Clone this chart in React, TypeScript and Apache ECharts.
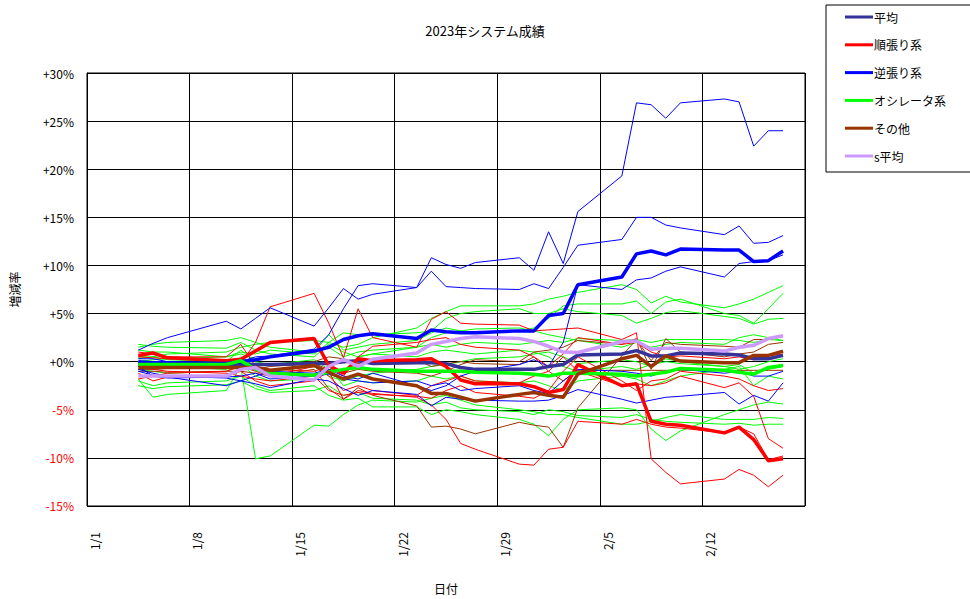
import React, { useEffect, useRef } from "react";
import * as echarts from "echarts";

const categories = [
  "1/1","1/2","1/3","1/4","1/5","1/6","1/7","1/8","1/9","1/10","1/11","1/12","1/13","1/14","1/15","1/16",
  "1/17","1/18","1/19","1/20","1/21","1/22","1/23","1/24","1/25","1/26","1/27","1/28","1/29","1/30","1/31",
  "2/1","2/2","2/3","2/4","2/5","2/6","2/7","2/8","2/9","2/10","2/11","2/12","2/13","2/14","2/15","2/16","2/17","2/18",
];

const tradingDays = [
  "1/4","1/5","1/6","1/10","1/11","1/12","1/13","1/16","1/17","1/18","1/19","1/20","1/23","1/24","1/25","1/26",
  "1/27","1/30","1/31","2/1","2/2","2/3","2/6","2/7","2/8","2/9","2/10","2/13","2/14","2/15","2/16","2/17",
];

// thick average lines
const avgAll = [-0.2,-0.2,-0.3,-0.3,-0.3,-0.3,-0.3,-0.2,-0.2,0.0,0.1,-0.2,-0.1,-0.1,-0.2,-0.6,-0.8,-0.8,-0.8,-0.5,-0.3,0.7,0.8,1.15,0.6,0.6,0.9,0.8,0.7,0.3,0.3,0.65];
const trendAvg = [0.65,0.9,0.4,0.1,0.25,1.1,2.0,2.4,-0.4,-1.2,0.3,0.1,0.2,0.3,-0.5,-1.9,-2.3,-2.3,-2.6,-3.2,-2.9,-0.3,-2.5,-2.3,-6.2,-6.5,-6.6,-7.4,-6.8,-8.1,-10.3,-10.1];
const revAvg = [0.0,-0.1,-0.1,-0.2,0.0,0.2,0.5,1.1,1.5,2.3,2.7,2.9,2.4,3.3,3.1,3.0,3.0,3.2,3.2,4.8,5.0,8.0,8.8,11.2,11.5,11.1,11.7,11.6,11.6,10.4,10.5,11.5];
const oscAvg = [-0.3,-0.3,-0.3,-0.3,0.1,-0.8,-1.2,-1.4,-1.1,-0.8,-0.6,-0.8,-1.0,-1.0,-1.0,-1.0,-1.1,-1.2,-1.3,-1.5,-1.2,-1.2,-1.3,-1.5,-1.3,-1.1,-0.7,-0.9,-1.1,-1.3,-0.6,-0.4];
const otherAvg = [-0.6,-0.6,-0.6,-0.6,-0.6,-0.6,-0.9,-0.4,-1.1,-1.8,-1.3,-1.8,-2.5,-3.3,-3.3,-3.7,-4.1,-3.4,-3.2,-3.5,-3.7,-1.3,0.3,0.65,-0.5,0.6,0.06,-0.1,-0.1,0.65,0.65,1.1];
const sAvg = [-1.5,-1.5,-1.5,-1.5,-0.8,-0.6,-1.5,-1.9,-0.5,0.25,-0.5,0.25,0.9,1.8,2.1,2.4,2.6,2.4,2.1,1.6,1.0,0.95,2.1,2.15,1.3,1.4,1.4,1.1,1.5,1.7,2.4,2.7];

// thin lines: 逆張り系 individual systems
const rev1 = [1.2,1.9,2.5,4.2,3.4,4.5,5.6,3.7,5.6,7.6,6.5,7.0,7.7,10.8,10.1,9.7,10.3,10.8,9.5,13.5,10.2,15.6,19.3,26.9,26.7,25.3,26.9,27.3,27.0,22.4,24.0,24.0];
const rev2 = [0.3,0.3,0.0,-0.3,0.0,0.5,0.6,1.3,2.8,5.5,7.9,8.1,7.7,9.4,7.8,7.7,7.6,7.5,8.1,7.6,9.8,12.1,12.7,15.0,15.0,14.2,13.9,13.2,14.1,12.3,12.4,13.1];
const rev3 = [-0.8,-1.2,-1.5,-1.7,-2.0,-1.5,-1.0,-1.2,-0.8,-1.5,-1.8,-1.2,-2.5,-3.0,-2.5,-1.5,-1.0,-0.3,0.2,-0.5,2.0,8.0,7.5,8.5,8.7,9.4,9.85,8.8,10.2,10.4,10.5,11.1];
const rev4 = [-1.0,-1.4,-1.6,-2.5,-2.0,-2.3,-2.7,-1.8,-2.0,-2.8,-3.5,-3.0,-3.4,-4.6,-3.7,-3.9,-4.0,-4.1,-4.1,-4.0,-3.5,-2.9,-3.9,-4.3,-4.0,-3.7,-3.6,-3.2,-4.4,-3.5,-4.1,-2.2];
const rev5 = [-0.5,-1.5,-1.7,-1.6,-1.5,-1.2,-1.8,-1.5,-1.3,-1.8,-2.0,-2.2,-2.0,-2.5,-2.2,-3.0,-2.8,-2.5,-3.0,-3.3,-2.0,-0.8,-1.0,-1.2,-1.5,-1.0,-0.8,-1.2,-1.0,-1.5,-1.5,-1.0];

// thin lines: 順張り系 individual systems
const trend1 = [0.5,0.4,0.3,0.2,-0.2,2.0,5.7,7.1,4.0,0.4,5.5,2.5,1.5,4.4,5.2,4.0,3.9,3.8,3.2,3.3,3.4,3.5,2.3,3.0,-10.1,-11.5,-12.7,-12.2,-11.2,-11.8,-13.0,-11.8];
const trend2 = [-1.8,-1.5,-1.2,-1.0,-0.5,-1.0,-1.5,-0.5,-1.5,-3.0,-2.5,-3.0,-3.5,-2.5,-2.0,-1.5,-2.0,-2.2,-1.5,-1.0,0.5,-1.0,-2.5,-2.3,-2.5,-2.2,-1.5,-2.7,-2.2,-3.6,-8.0,-9.0];
const trend3 = [-1.2,-2.0,-1.6,-1.5,-1.0,-2.0,-2.5,-2.0,-1.0,-3.9,-3.0,-3.3,-3.7,-4.5,-6.0,-8.5,-9.1,-10.65,-10.75,-9.1,-8.9,-6.2,-6.5,-6.0,-6.5,-6.8,-6.9,-7.4,-6.8,-7.5,-10.2,-9.8];
const trend4 = [1.0,0.8,0.5,0.5,1.8,-0.5,-0.8,-1.0,-0.5,-1.5,0.5,1.6,2.0,2.3,2.5,1.8,1.5,1.2,0.5,-0.5,0.8,2.5,1.8,2.0,1.0,0.5,0.6,0.3,0.5,0.2,0.6,0.8];
const trend5 = [-0.5,-0.8,-1.0,-1.2,-1.5,-1.8,-2.0,-1.5,-3.0,-3.5,-3.2,-3.4,-3.6,-3.8,-3.0,-2.5,-3.2,-3.6,-3.8,-3.0,-1.0,0.5,-2.0,-3.0,-2.0,-1.8,-1.0,-1.5,-1.8,-2.5,-3.0,-2.8];

// thin lines: その他 individual systems
const other1 = [-1.0,-1.0,-1.1,-1.0,-1.0,-1.2,-1.5,-0.8,-2.8,-3.9,-2.7,-3.5,-4.6,-6.8,-6.7,-7.0,-7.5,-6.3,-6.6,-6.8,-8.9,-4.8,0.6,2.3,0.1,2.0,1.8,1.6,1.5,2.3,2.3,2.6];
const other2 = [-0.3,-0.3,-0.2,-0.2,-0.3,-0.2,-0.3,0.0,0.5,0.3,-0.2,0.0,0.2,-0.5,-0.2,0.0,-0.2,-0.3,0.5,-1.0,-2.0,-0.9,-0.9,-0.9,-0.9,-0.9,-0.9,-0.9,-0.9,-0.9,-0.9,-0.9];
const other3 = [-0.8,-0.8,-0.7,-0.7,-0.6,-0.8,-0.5,-0.2,-0.8,-1.2,-0.8,-1.0,-1.2,-1.5,-1.0,-0.3,0.2,0.0,1.0,1.2,1.5,2.2,1.8,2.4,-0.8,2.4,1.0,0.5,0.8,1.0,1.8,2.0];

// thin lines: オシレータ系 individual systems
const osc1 = [-1.8,-3.7,-3.4,-3.0,-0.5,-10.1,-9.8,-6.6,-6.7,-5.5,-4.5,-4.0,-4.2,-3.8,-3.5,-4.0,-4.5,-5.0,-5.2,-5.5,-5.5,-5.8,-6.5,-6.5,-6.2,-5.8,-5.5,-6.0,-6.0,-6.0,-5.8,-5.9];
const osc2 = [0.5,0.5,0.8,1.0,1.5,1.8,2.0,2.2,2.0,1.5,1.8,2.5,3.5,4.5,5.2,5.8,5.8,5.8,6.0,6.5,6.8,7.2,8.0,7.5,6.1,6.8,6.2,5.6,6.0,6.5,7.2,7.9];
const osc3 = [1.8,1.6,1.5,1.4,2.0,1.2,0.8,0.5,1.8,1.0,0.5,0.8,1.5,2.5,3.0,3.2,3.0,3.2,3.5,4.5,5.8,6.0,6.0,6.3,5.0,6.2,6.5,5.0,4.8,4.0,5.5,7.1];
const osc4 = [1.2,1.0,1.0,0.5,1.0,0.8,1.2,0.8,2.0,3.0,2.8,2.8,3.0,3.2,4.5,5.0,5.2,5.5,5.0,5.0,5.5,5.2,4.8,4.0,4.5,5.1,5.3,4.7,4.5,3.9,4.4,4.5];
const osc5 = [0.0,0.2,0.3,0.5,0.8,0.3,0.5,1.0,1.5,0.5,1.0,1.2,1.5,1.8,1.5,1.8,2.0,1.8,2.0,2.2,2.0,2.4,2.2,2.3,2.0,2.3,2.3,2.3,2.2,2.0,2.3,2.2];
const osc6 = [-0.5,-0.3,-0.5,-0.8,0.5,-0.5,-1.0,-0.5,-1.5,-2.0,-1.5,-1.2,-0.8,-0.5,-0.3,0.0,0.3,0.5,0.8,1.0,0.5,-0.2,0.2,0.0,-0.5,0.3,0.0,-0.5,-0.3,-1.2,-0.8,-0.5];
const osc7 = [-0.8,-1.0,-1.2,-1.0,-0.3,-1.5,-2.0,-1.8,-0.5,-2.5,-2.0,-2.2,-2.0,-1.5,-1.8,-1.5,-2.0,-2.2,-2.0,-2.5,-3.0,-2.0,-1.5,-1.8,-2.5,-2.0,-1.5,-0.8,-0.5,-2.5,-1.5,-1.8];
const osc8 = [-2.0,-2.5,-2.2,-2.0,-1.5,-2.5,-3.0,-2.5,-3.5,-4.0,-3.8,-4.7,-4.7,-5.5,-5.0,-5.2,-5.5,-6.0,-6.5,-7.7,-6.0,-5.0,-4.8,-5.0,-7.0,-8.2,-7.2,-5.5,-5.0,-4.5,-4.2,-4.4];
const osc9 = [-2.5,-2.8,-2.6,-2.4,-2.0,-2.8,-3.2,-3.0,-2.5,-3.5,-3.2,-3.8,-4.0,-4.5,-4.2,-4.8,-5.0,-5.2,-5.5,-5.0,-5.2,-5.6,-5.8,-5.5,-6.0,-6.2,-6.3,-6.5,-6.4,-6.6,-6.5,-6.5];
const osc10 = [0.3,0.5,0.2,0.0,1.2,0.0,-0.3,0.2,-0.8,-1.0,0.5,0.8,0.5,1.0,1.2,1.0,0.8,1.2,1.0,0.5,-0.5,-1.0,-0.5,-0.8,-0.3,0.0,-0.2,-0.5,-0.8,-0.5,0.0,0.3];
const osc11 = [1.5,1.8,2.0,2.2,2.5,2.0,1.5,1.0,2.8,1.2,1.5,1.8,2.2,3.0,3.5,3.2,3.4,3.5,3.2,2.8,2.5,2.2,1.5,2.0,1.5,1.8,2.0,1.8,2.5,2.8,2.5,2.2];

const yTicks = [-15, -10, -5, 0, 5, 10, 15, 20, 25, 30];

const RED = "#FF0000";
const BLUE = "#0000FF";
const GREEN = "#00FF00";
const BROWN = "#993300";
const NAVY = "#333399";
const LAVENDER = "#CC99FF";

const thinLines: [string, number[], string][] = [
  ["osc1", osc1, GREEN], ["osc2", osc2, GREEN], ["osc3", osc3, GREEN], ["osc4", osc4, GREEN],
  ["osc5", osc5, GREEN], ["osc6", osc6, GREEN], ["osc7", osc7, GREEN], ["osc8", osc8, GREEN],
  ["osc9", osc9, GREEN], ["osc10", osc10, GREEN], ["osc11", osc11, GREEN],
  ["other1", other1, BROWN], ["other2", other2, BROWN], ["other3", other3, BROWN],
  ["trend1", trend1, RED], ["trend2", trend2, RED], ["trend3", trend3, RED], ["trend4", trend4, RED], ["trend5", trend5, RED],
  ["rev1", rev1, BLUE], ["rev2", rev2, BLUE], ["rev3", rev3, BLUE], ["rev4", rev4, BLUE], ["rev5", rev5, BLUE],
];

const thickLines: [string, number[], string][] = [
  ["平均", avgAll, NAVY],
  ["順張り系", trendAvg, RED],
  ["逆張り系", revAvg, BLUE],
  ["オシレータ系", oscAvg, GREEN],
  ["その他", otherAvg, BROWN],
  ["s平均", sAvg, LAVENDER],
];

const FONT = "'Noto Sans CJK JP', 'Noto Sans', sans-serif";

function toData(values: number[]) {
  return values.map((v, i) => [categories.indexOf(tradingDays[i]), v]);
}

export default function App() {
  const ref = useRef<HTMLDivElement>(null);
  useEffect(() => {
    if (!ref.current) return;
    const chart = echarts.init(ref.current, undefined, { renderer: "svg" });
    const series: any[] = [];
    thinLines.forEach(([name, vals, color]) => {
      series.push({
        name,
        type: "line",
        data: toData(vals),
        symbol: "none",
        color,
        lineStyle: { width: 1, color },
        z: 2,
        silent: true,
      });
    });
    thickLines.forEach(([name, vals, color], k) => {
      series.push({
        name,
        type: "line",
        data: toData(vals),
        symbol: "none",
        color,
        lineStyle: { width: 3.5, color },
        z: 3 + k,
        silent: true,
      });
    });
    chart.setOption({
      animation: false,
      backgroundColor: "#fff",
      textStyle: { fontFamily: FONT },
      title: {
        text: "2023年システム成績",
        left: "center",
        top: 19,
        textStyle: { fontSize: 13, fontWeight: "normal", color: "#000", fontFamily: FONT },
      },
      legend: {
        data: thickLines.map((t) => t[0]),
        orient: "vertical",
        left: 826,
        top: 5,
        padding: [6, 31, 10, 19],
        itemGap: 15.8,
        itemWidth: 28,
        itemHeight: 3,
        icon: "rect",
        borderColor: "#000",
        borderWidth: 1,
        backgroundColor: "#fff",
        textStyle: { fontSize: 12, color: "#000", fontFamily: FONT, padding: [0, 0, 0, -4] },
        selectedMode: false,
      },
      grid: {
        left: 85,
        top: 73,
        right: 165,
        bottom: 92,
        show: true,
        borderColor: "#000",
        borderWidth: 1,
      },
      xAxis: {
        type: "category",
        data: categories,
        boundaryGap: true,
        name: "日付",
        nameLocation: "middle",
        nameGap: 76,
        nameTextStyle: { fontSize: 12, color: "#000", fontFamily: FONT },
        axisLine: { lineStyle: { color: "#000", width: 1 } },
        axisTick: { show: false, interval: 6 },
        splitLine: { show: true, interval: 6, lineStyle: { color: "#000", width: 1 } },
        axisLabel: {
          interval: 6,
          rotate: 90,
          margin: 26,
          fontSize: 12,
          color: "#000",
          fontFamily: FONT,
        },
      },
      yAxis: {
        type: "value",
        min: yTicks[0],
        max: yTicks[yTicks.length - 1],
        interval: 5,
        name: "増減率",
        nameLocation: "middle",
        nameRotate: 90,
        nameGap: 67,
        nameTextStyle: { fontSize: 12, color: "#000", fontFamily: FONT },
        axisLine: { show: true, lineStyle: { color: "#000", width: 1 } },
        axisTick: { show: false },
        splitLine: { show: true, lineStyle: { color: "#000", width: 1 } },
        axisLabel: {
          margin: 13,
          fontSize: 12,
          fontFamily: FONT,
          color: (v: any) => (Number(v) < 0 ? "#FF0000" : "#000"),
          formatter: (v: number) => (v > 0 ? `+${v}%` : v < 0 ? `${v}%` : "+0%"),
        },
      },
      series,
    });
    return () => chart.dispose();
  }, []);
  return (
    <div
      ref={ref}
      style={{ position: "absolute", left: 0, top: 0, width: 970, height: 599 }}
    />
  );
}
